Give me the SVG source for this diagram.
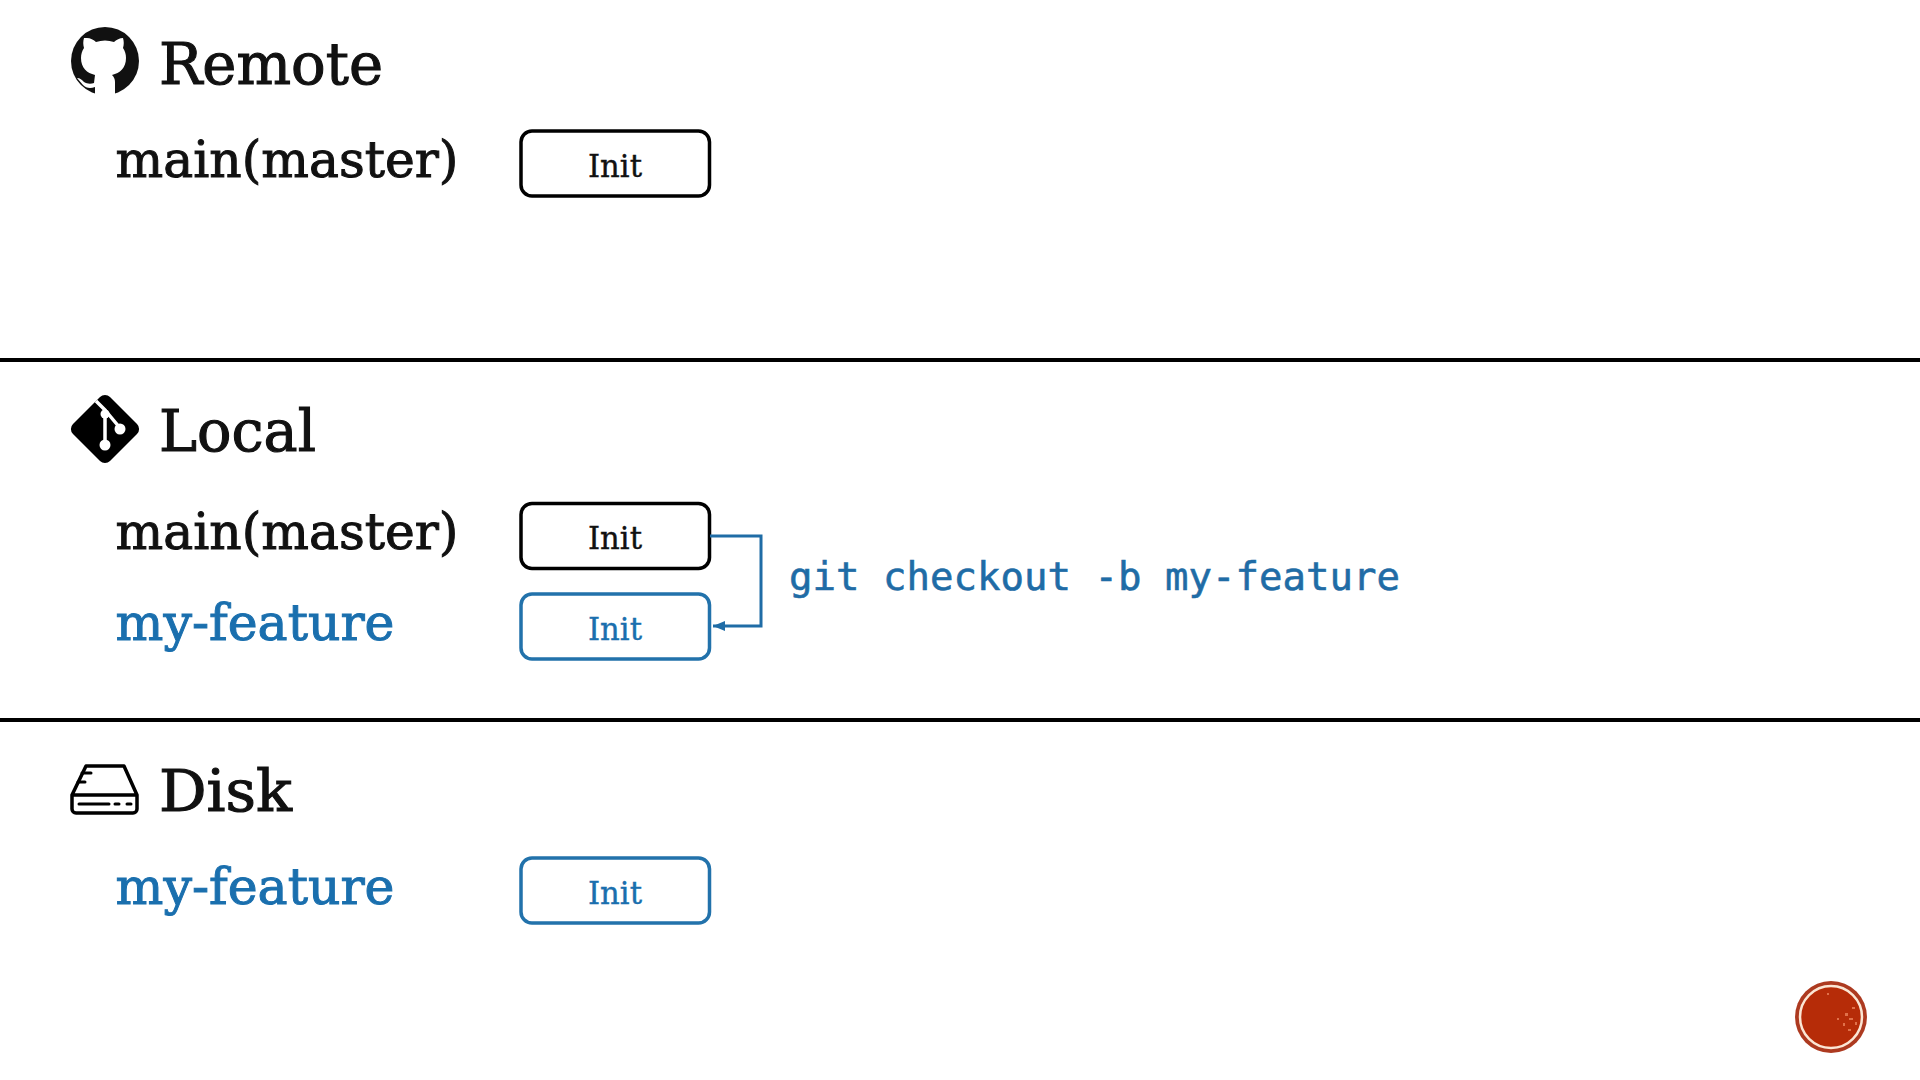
<svg xmlns="http://www.w3.org/2000/svg" width="1920" height="1080" viewBox="0 0 1920 1080">
<style>
.h{font-family:"DejaVu Serif","Liberation Serif",serif;font-size:58px;fill:#111;stroke:#111;stroke-width:1.1}
.b{font-family:"DejaVu Serif","Liberation Serif",serif;font-size:50px;fill:#111;stroke:#111;stroke-width:1}
.t{font-family:"DejaVu Serif","Liberation Serif",serif;font-size:32px;text-anchor:middle;fill:#111;stroke:#111;stroke-width:.4}
.b.blue,.h.blue{fill:#1a6fae;stroke:#1a6fae}
.t.blue{fill:#1a6fae;stroke:#1a6fae}
.box{fill:#fff;stroke:#000;stroke-width:3.5}
.bbox{fill:#fff;stroke:#2272ab;stroke-width:3.5}
.rule{stroke:#000;stroke-width:4}
.mono{font-family:"DejaVu Sans Mono","Liberation Mono",monospace;font-size:39px;fill:#1f6ca6;stroke:#1f6ca6;stroke-width:.6}
.sp{fill:#e0714a}
</style>
<defs>
<marker id="a" markerWidth="12" markerHeight="12" refX="12" refY="5" orient="auto" markerUnits="userSpaceOnUse"><path d="M0 5L12 0V10Z" fill="#1f6ca6" transform="rotate(180 6 5)"/></marker>
</defs>
<rect width="1920" height="1080" fill="#fff"/>
<g id="rules"><line class="rule" x1="0" y1="360" x2="1920" y2="360"/><line class="rule" x1="0" y1="720" x2="1920" y2="720"/></g>
<g id="remote">
<circle cx="105" cy="61" r="34" fill="#111"/>
<path d="M87 38c3 0 7 2 9 4 6-2 12-2 18 0 2-2 6-4 9-4 1 3 1 7 0 10 2 3 3 6 3 10 0 10-6 15-14 17 2 2 3 4 3 7v13h-20v-8c-5 2-9 1-12-2l-6-7c3 0 5 2 7 4 3 2 7 2 10 1l1-8c-8-2-14-7-14-17 0-4 1-7 3-10-1-3-1-7 0-10z" fill="#fff"/>
<text class="h" x="159" y="84" textLength="224" lengthAdjust="spacingAndGlyphs">Remote</text>
<text class="b" x="115.500" y="177" textLength="343" lengthAdjust="spacingAndGlyphs">main(master)</text>
</g>
<g id="remote-init"><rect class="box" x="521" y="131" width="188.500" height="65" rx="11"/><text class="t" x="615" y="177" textLength="54" lengthAdjust="spacingAndGlyphs">Init</text></g>
<g id="local">
<path d="M100 397a7 7 0 0 1 10 0l27 27a7 7 0 0 1 0 10l-27 27a7 7 0 0 1-10 0l-27-27a7 7 0 0 1 0-10z" fill="#000"/>
<path d="M96 401L105 410V443M105 410L120 428" stroke="#fff" stroke-width="3.500" fill="none"/>
<circle cx="105" cy="445" r="5.500" fill="#fff"/><circle cx="105" cy="414" r="4.500" fill="#fff"/><circle cx="120" cy="429" r="5.500" fill="#fff"/>
<text class="h" x="159" y="451" textLength="157" lengthAdjust="spacingAndGlyphs">Local</text>
<text class="b" x="115.500" y="549" textLength="343" lengthAdjust="spacingAndGlyphs">main(master)</text>
<text class="b blue" x="115.500" y="640" textLength="279" lengthAdjust="spacingAndGlyphs">my-feature</text>
</g>
<g id="local-main-init"><rect class="box" x="521" y="503.500" width="188.500" height="65" rx="11"/><text class="t" x="615" y="549" textLength="54" lengthAdjust="spacingAndGlyphs">Init</text></g>
<g id="local-feature-init"><rect class="bbox" x="521" y="594" width="188.500" height="65" rx="11"/><text class="t blue" x="615" y="640" textLength="54" lengthAdjust="spacingAndGlyphs">Init</text></g>
<g id="connectors"><path d="M710 536H761V626H713" fill="none" stroke="#1f6ca6" stroke-width="3" marker-end="url(#a)"/></g>
<text class="mono" x="789" y="590" textLength="611">git checkout -b my-feature</text>
<g id="disk">
<path d="M86 766H124L137 795V809a4 4 0 0 1-4 4H76a4 4 0 0 1-4-4V795ZM72 795H137" fill="none" stroke="#000" stroke-width="3.500" stroke-linejoin="round"/>
<path d="M79 804H109M115 804H119M127 804H131M82 773H91M78 782H85" stroke="#000" stroke-width="3" fill="none" stroke-linecap="round"/>
<text class="h" x="159" y="811" textLength="133" lengthAdjust="spacingAndGlyphs">Disk</text>
<text class="b blue" x="115.500" y="904" textLength="279" lengthAdjust="spacingAndGlyphs">my-feature</text>
</g>
<g id="disk-init"><rect class="bbox" x="521" y="858" width="188.500" height="65" rx="11"/><text class="t blue" x="615" y="904" textLength="54" lengthAdjust="spacingAndGlyphs">Init</text></g>
<g id="badge"><circle cx="1831" cy="1017" r="36" fill="#ad3a20"/><circle cx="1831" cy="1017" r="31" fill="#b62c08" stroke="#fbe6d4" stroke-width="2.500"/>
<rect class="sp" x="1845" y="1013" width="3" height="3"/><rect class="sp" x="1849" y="1018" width="4" height="2"/><rect class="sp" x="1843" y="1023" width="2" height="3"/><rect class="sp" x="1852" y="1007" width="3" height="2"/><rect class="sp" x="1837" y="1018" width="2" height="2"/><rect class="sp" x="1848" y="1029" width="3" height="2"/><rect class="sp" x="1855" y="1022" width="2" height="3"/><rect class="sp" x="1827" y="993" width="2" height="2"/></g>
</svg>
